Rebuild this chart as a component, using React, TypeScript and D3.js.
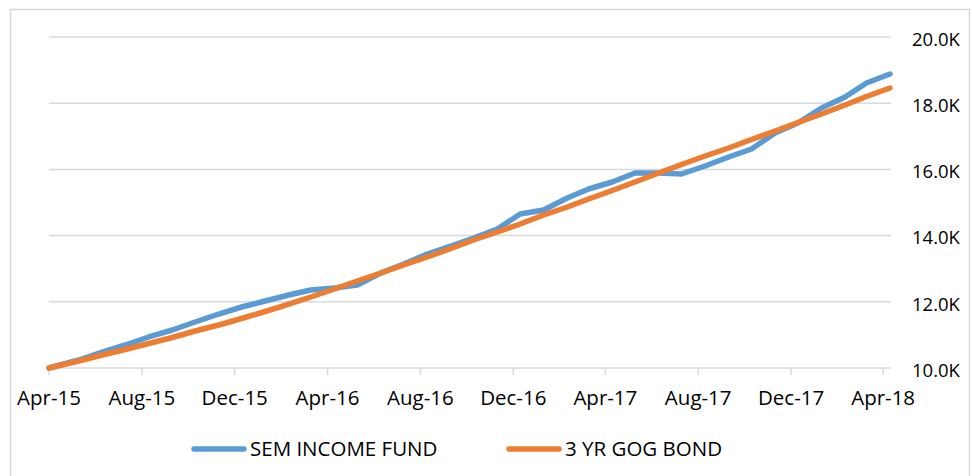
import React from "react";
import * as d3 from "d3";

const dates: string[] = [
  "2015-04-01", "2015-05-10", "2015-06-10", "2015-07-10", "2015-08-10", "2015-09-10",
  "2015-10-10", "2015-11-10", "2015-12-10", "2016-01-10", "2016-02-10", "2016-03-10",
  "2016-04-10", "2016-05-10", "2016-06-10", "2016-07-10", "2016-08-10", "2016-09-10",
  "2016-10-10", "2016-11-10", "2016-12-10", "2017-01-10", "2017-02-10", "2017-03-10",
  "2017-04-10", "2017-05-10", "2017-06-10", "2017-07-10", "2017-08-10", "2017-09-10",
  "2017-10-10", "2017-11-10", "2017-12-10", "2018-01-10", "2018-02-10", "2018-03-10",
  "2018-04-10",
];

const semIncomeFund: number[] = [
  10000, 10242, 10483, 10695, 10937, 11148, 11390, 11631, 11843, 12024, 12205, 12356,
  12417, 12507, 12870, 13142, 13444, 13686, 13927, 14199, 14652, 14773, 15136, 15408,
  15619, 15891, 15891, 15861, 16103, 16374, 16616, 17099, 17401, 17855, 18187, 18610,
  18882,
];

const gogBond: number[] = [
  10000, 10211, 10393, 10559, 10740, 10921, 11118, 11299, 11495, 11707, 11933, 12145,
  12387, 12628, 12870, 13112, 13353, 13610, 13867, 14109, 14350, 14622, 14864, 15105,
  15362, 15619, 15891, 16148, 16405, 16646, 16903, 17160, 17417, 17673, 17945, 18202,
  18459,
];

const xTickDates: string[] = [
  "2015-04-01", "2015-08-01", "2015-12-01", "2016-04-01", "2016-08-01", "2016-12-01",
  "2017-04-01", "2017-08-01", "2017-12-01", "2018-04-01",
];
const xTickLabels: string[] = [
  "Apr-15", "Aug-15", "Dec-15", "Apr-16", "Aug-16", "Dec-16",
  "Apr-17", "Aug-17", "Dec-17", "Apr-18",
];
const yTicks: number[] = [10000, 12000, 14000, 16000, 18000, 20000];
const seriesNames: string[] = ["SEM INCOME FUND", "3 YR GOG BOND"];
const seriesColors: string[] = ["#5B9BD5", "#ED7D31"];

const W = 972;
const H = 476;
const FONT = "'Open Sans', 'DejaVu Sans', sans-serif";

export default function App() {
  const parse = d3.utcParse("%Y-%m-%d");
  const xd = dates.map((d) => parse(d) as Date);
  const x = d3
    .scaleUtc()
    .domain([parse("2015-04-01") as Date, parse("2018-04-10") as Date])
    .range([49, 890]);
  const y = d3.scaleLinear().domain([10000, 20000]).range([368, 37]);
  const axisEnd = 891;

  const line = d3
    .line<number>()
    .x((_, i) => x(xd[i]))
    .y((v) => y(v));

  const series = [semIncomeFund, gogBond];
  const legendX = [192, 507];

  return (
    <svg
      width={W}
      height={H}
      style={{ position: "absolute", left: 0, top: 0, display: "block", background: "#fff" }}
      fontFamily={FONT}
    >
      <rect x={0} y={0} width={W} height={H} fill="#fff" />
      <rect x={10.5} y={9.5} width={959} height={H + 10} fill="none" stroke="#d9d9d9" strokeWidth={1.5} />
      {yTicks.map((t) => (
        <line key={"g" + t} x1={49} x2={axisEnd} y1={y(t)} y2={y(t)} stroke="#d9d9d9" strokeWidth={1.5} />
      ))}
      {xTickDates.map((d, i) => {
        const xx = x(parse(d) as Date);
        return (
          <g key={"xt" + i}>
            <line x1={xx} x2={xx} y1={368} y2={375} stroke="#d9d9d9" strokeWidth={1.5} />
            <text x={xx} y={405} textAnchor="middle" fontSize={20.5} fill="#000">
              {xTickLabels[i]}
            </text>
          </g>
        );
      })}
      {yTicks.map((t) => (
        <text key={"yl" + t} x={912} y={y(t) + 8.8} fontSize={18.5} fill="#000">
          {d3.format(".1f")(t / 1000) + "K"}
        </text>
      ))}
      {series.map((s, i) => (
        <path
          key={"s" + i}
          d={line(s) || ""}
          fill="none"
          stroke={seriesColors[i]}
          strokeWidth={5.5}
          strokeLinejoin="round"
          strokeLinecap="round"
        />
      ))}
      {seriesNames.map((n, i) => (
        <g key={"lg" + i}>
          <line
            x1={legendX[i] + 2}
            x2={legendX[i] + 52}
            y1={449}
            y2={449}
            stroke={seriesColors[i]}
            strokeWidth={5.5}
            strokeLinecap="round"
          />
          <text x={legendX[i] + 58} y={456} fontSize={20.5} fill="#000">
            {n}
          </text>
        </g>
      ))}
    </svg>
  );
}
